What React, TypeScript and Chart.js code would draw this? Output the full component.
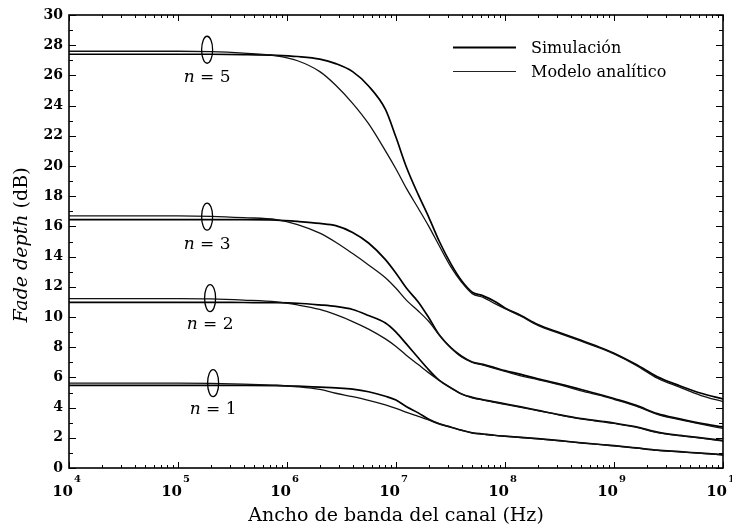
import React, { useEffect, useRef } from "react";
import { Chart, registerables } from "chart.js";

Chart.register(...registerables);

// ---------- data ----------
const freqsHz = [
  1e4, 1e5, 2e5, 4e5, 8e5, 1.25e6, 2e6, 2.8e6, 4e6, 5.6e6, 8e6, 1e7, 1.25e7,
  1.6e7, 2e7, 2.5e7, 3.2e7, 4e7, 5e7, 6.3e7, 8e7, 1e8, 1.4e8, 2e8, 3.2e8, 5e8,
  8e8, 1e9, 1.6e9, 2.5e9, 4e9, 6.3e9, 1e10,
];

const n5Analytic = [27.6, 27.6, 27.57, 27.47, 27.3, 26.97, 26.25, 25.35, 24.15, 22.8, 21.0, 19.8, 18.5, 17.2, 16.0, 14.7, 13.3, 12.3, 11.55, 11.3, 10.9, 10.55, 10.05, 9.45, 8.9, 8.4, 7.85, 7.55, 6.8, 5.95, 5.35, 4.8, 4.4];
const n5Sim = [27.4, 27.4, 27.4, 27.38, 27.33, 27.25, 27.08, 26.78, 26.25, 25.3, 23.75, 21.9, 19.9, 18.1, 16.6, 15.0, 13.5, 12.4, 11.65, 11.4, 11.05, 10.6, 10.1, 9.5, 8.95, 8.45, 7.9, 7.6, 6.85, 6.05, 5.45, 4.95, 4.58];
const n3Analytic = [16.7, 16.7, 16.67, 16.58, 16.45, 16.12, 15.55, 14.95, 14.2, 13.45, 12.6, 11.9, 11.1, 10.4, 9.7, 8.8, 7.95, 7.35, 7.0, 6.82, 6.6, 6.4, 6.1, 5.85, 5.5, 5.1, 4.75, 4.55, 4.1, 3.55, 3.2, 2.9, 2.62];
const n3Sim = [16.45, 16.45, 16.45, 16.45, 16.42, 16.33, 16.2, 16.05, 15.6, 14.9, 13.8, 12.9, 11.9, 11.0, 9.95, 8.8, 7.95, 7.4, 7.02, 6.86, 6.65, 6.45, 6.2, 5.9, 5.55, 5.2, 4.8, 4.6, 4.15, 3.6, 3.25, 2.95, 2.72];
const n2Analytic = [11.22, 11.22, 11.2, 11.12, 11.0, 10.8, 10.5, 10.15, 9.7, 9.2, 8.55, 8.05, 7.45, 6.85, 6.3, 5.8, 5.3, 4.9, 4.65, 4.5, 4.35, 4.22, 4.02, 3.8, 3.5, 3.25, 3.05, 2.95, 2.7, 2.35, 2.15, 1.98, 1.78];
const n2Sim = [10.97, 10.97, 10.97, 10.96, 10.95, 10.91, 10.8, 10.7, 10.5, 10.1, 9.6, 9.0, 8.2, 7.3, 6.5, 5.8, 5.3, 4.9, 4.68, 4.52, 4.38, 4.25, 4.05, 3.82, 3.52, 3.27, 3.08, 2.98, 2.72, 2.38, 2.16, 2.0, 1.82];
const n1Analytic = [5.62, 5.62, 5.6, 5.55, 5.48, 5.38, 5.2, 4.95, 4.72, 4.48, 4.18, 3.95, 3.68, 3.42, 3.18, 2.92, 2.7, 2.5, 2.32, 2.24, 2.16, 2.1, 2.02, 1.93, 1.8, 1.66, 1.53, 1.47, 1.32, 1.17, 1.07, 0.97, 0.86];
const n1Sim = [5.47, 5.47, 5.47, 5.47, 5.46, 5.42, 5.35, 5.3, 5.22, 5.05, 4.75, 4.5, 4.05, 3.65, 3.22, 2.92, 2.7, 2.5, 2.33, 2.25, 2.17, 2.11, 2.03, 1.94, 1.81, 1.67, 1.54, 1.48, 1.33, 1.18, 1.08, 0.98, 0.88];

const simSeries = [n5Sim, n3Sim, n2Sim, n1Sim];
const analyticSeries = [n5Analytic, n3Analytic, n2Analytic, n1Analytic];

const legendLabels = ["Simulación", "Modelo analítico"];
const groupNumbers = ["5", "3", "2", "1"];
const groupMarkerFreqs = [1.85e5, 1.85e5, 1.97e5, 2.1e5];
const groupMarkerValues = [27.7, 16.65, 11.25, 5.62];
const groupLabelValues = [25.83, 14.77, 9.47, 3.84];

const xTickExponents = [4, 5, 6, 7, 8, 9, 10];
const xTitle = "Ancho de banda del canal (Hz)";
const yTitleItalic = "Fade depth";
const yTitleRegular = " (dB)";

const FONT = '"DejaVu Serif", serif';

const overlayPlugin = {
  id: "overlay",
  afterDatasetsDraw(chart: any) {
    const { ctx, chartArea: ca, scales } = chart;
    const xs = scales.x;
    const ys = scales.y;
    ctx.save();
    ctx.strokeStyle = "#000";
    ctx.fillStyle = "#000";

    // inward ticks
    ctx.lineWidth = 1;
    ctx.beginPath();
    const lastE = xTickExponents[xTickExponents.length - 1];
    for (let e = xTickExponents[0]; e <= lastE; e++) {
      for (let m = 1; m <= 9; m++) {
        if (e === lastE && m > 1) break;
        const v = m * Math.pow(10, e);
        const px = Math.round(xs.getPixelForValue(v)) + 0.5;
        const len = m === 1 ? 6 : 3;
        ctx.moveTo(px, ca.bottom);
        ctx.lineTo(px, ca.bottom - len);
        ctx.moveTo(px, ca.top);
        ctx.lineTo(px, ca.top + len);
      }
    }
    for (let v = ys.min; v <= ys.max; v++) {
      const py = Math.round(ys.getPixelForValue(v)) + 0.5;
      const len = v % 2 === 0 ? 7 : 4;
      ctx.moveTo(ca.left, py);
      ctx.lineTo(ca.left + len, py);
      ctx.moveTo(ca.right, py);
      ctx.lineTo(ca.right - len, py);
    }
    ctx.stroke();

    // frame
    ctx.lineWidth = 1.6;
    ctx.strokeRect(ca.left, ca.top, ca.right - ca.left, ca.bottom - ca.top);

    // x tick labels 10^n
    for (const e of xTickExponents) {
      const px = xs.getPixelForValue(Math.pow(10, e));
      ctx.font = `bold 15px ${FONT}`;
      ctx.textAlign = "right";
      ctx.textBaseline = "alphabetic";
      ctx.fillText("10", px + 4, 496);
      ctx.font = `bold 10px ${FONT}`;
      ctx.textAlign = "left";
      ctx.fillText(String(e), px + 5, 482);
    }

    // y title
    ctx.save();
    ctx.translate(27, 245);
    ctx.rotate(-Math.PI / 2);
    ctx.textBaseline = "alphabetic";
    ctx.textAlign = "left";
    ctx.font = `italic 19px ${FONT}`;
    const w1 = ctx.measureText(yTitleItalic).width;
    ctx.font = `19px ${FONT}`;
    const w2 = ctx.measureText(yTitleRegular).width;
    const start = -(w1 + w2) / 2;
    ctx.font = `italic 19px ${FONT}`;
    ctx.fillText(yTitleItalic, start, 0);
    ctx.font = `19px ${FONT}`;
    ctx.fillText(yTitleRegular, start + w1, 0);
    ctx.restore();

    // legend
    const legendY = [47, 71];
    const legendBase = [53, 77];
    const legendWidths = [1.8, 1.2];
    legendLabels.forEach((lab, i) => {
      ctx.beginPath();
      ctx.lineWidth = legendWidths[i];
      ctx.strokeStyle = i === 0 ? "#000" : "#222";
      ctx.moveTo(453, legendY[i] + 0.5);
      ctx.lineTo(516, legendY[i] + 0.5);
      ctx.stroke();
      ctx.font = `16px ${FONT}`;
      ctx.textAlign = "left";
      ctx.textBaseline = "alphabetic";
      ctx.fillText(lab, 531, legendBase[i]);
    });

    // group markers (ellipses) and labels
    ctx.strokeStyle = "#000";
    groupNumbers.forEach((num, i) => {
      const cx = xs.getPixelForValue(groupMarkerFreqs[i]);
      const cy = ys.getPixelForValue(groupMarkerValues[i]);
      ctx.beginPath();
      ctx.lineWidth = 1.3;
      ctx.ellipse(cx, cy, 5.5, 13.5, 0, 0, Math.PI * 2);
      ctx.stroke();
      const ly = ys.getPixelForValue(groupLabelValues[i]);
      ctx.textBaseline = "middle";
      ctx.textAlign = "left";
      ctx.font = `italic 17px ${FONT}`;
      const wn = ctx.measureText("n").width;
      ctx.font = `17px ${FONT}`;
      const rest = " = " + num;
      const wr = ctx.measureText(rest).width;
      const sx = cx - (wn + wr) / 2;
      ctx.font = `italic 17px ${FONT}`;
      ctx.fillText("n", sx, ly);
      ctx.font = `17px ${FONT}`;
      ctx.fillText(rest, sx + wn, ly);
    });

    ctx.restore();
  },
};

export default function App() {
  const canvasRef = useRef<HTMLCanvasElement | null>(null);

  useEffect(() => {
    if (!canvasRef.current) return;
    const datasets: any[] = [];
    analyticSeries.forEach((arr, i) => {
      datasets.push({
        label: `${legendLabels[1]} n=${groupNumbers[i]}`,
        data: freqsHz.map((f, j) => ({ x: f, y: arr[j] })),
        borderColor: "#111",
        borderWidth: 1.3,
        pointRadius: 0,
        tension: 0.35,
        cubicInterpolationMode: "monotone",
        fill: false,
      });
    });
    simSeries.forEach((arr, i) => {
      datasets.push({
        label: `${legendLabels[0]} n=${groupNumbers[i]}`,
        data: freqsHz.map((f, j) => ({ x: f, y: arr[j] })),
        borderColor: "#000",
        borderWidth: 1.7,
        pointRadius: 0,
        tension: 0.35,
        cubicInterpolationMode: "monotone",
        fill: false,
      });
    });

    const chart = new Chart(canvasRef.current, {
      type: "line",
      data: { datasets },
      options: {
        animation: false,
        responsive: false,
        maintainAspectRatio: false,
        layout: { padding: { top: 15, right: 9, left: 0, bottom: 0 } },
        plugins: { legend: { display: false }, tooltip: { enabled: false } },
        scales: {
          x: {
            type: "logarithmic",
            min: 1e4,
            max: 1e10,
            grid: { display: false, drawTicks: false },
            border: { display: false },
            ticks: { display: false },
            title: {
              display: true,
              text: xTitle,
              color: "#000",
              font: { family: FONT, size: 19 },
              padding: { top: 0, bottom: 1 },
            },
            afterFit: (s: any) => {
              s.height = 60;
            },
          },
          y: {
            type: "linear",
            min: 0,
            max: 30,
            grid: { display: false, drawTicks: false },
            border: { display: false },
            ticks: {
              stepSize: 2,
              color: "#000",
              padding: 6,
              font: { family: FONT, size: 14, weight: "bold" },
            },
            afterFit: (s: any) => {
              s.width = 69;
            },
          },
        },
      } as any,
      plugins: [overlayPlugin],
    });
    return () => chart.destroy();
  }, []);

  return (
    <div style={{ position: "fixed", left: 0, top: 0, width: 732, height: 528, background: "#fff" }}>
      <canvas ref={canvasRef} width={732} height={528} style={{ display: "block" }} />
    </div>
  );
}
